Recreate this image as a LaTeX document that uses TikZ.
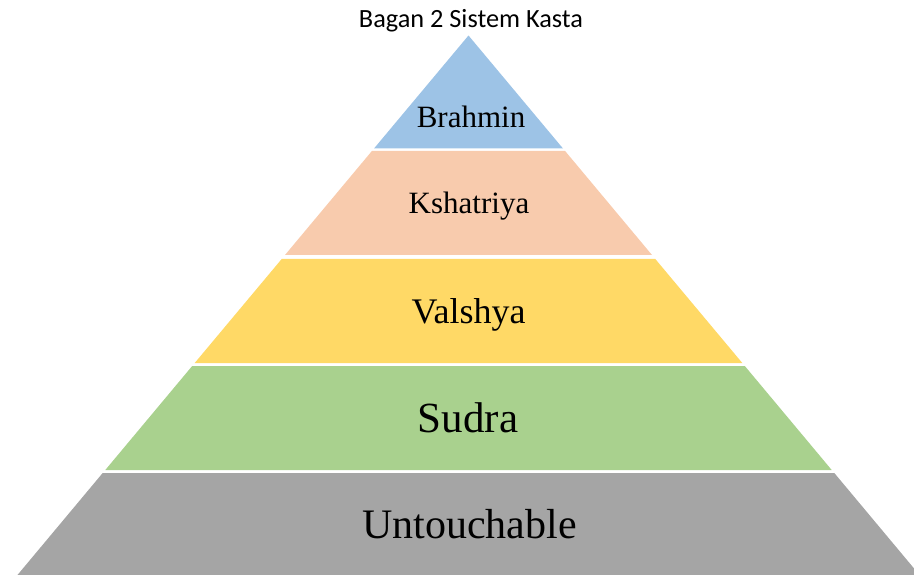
\documentclass[tikz,border=0pt]{standalone}
\usepackage{fontspec}
\setmainfont{Liberation Serif}
\newfontfamily\titlefont{Carlito}
\definecolor{cBrahmin}{HTML}{9DC3E6}
\definecolor{cKsha}{HTML}{F8CBAD}
\definecolor{cVal}{HTML}{FFD966}
\definecolor{cSud}{HTML}{A9D18E}
\definecolor{cUnt}{HTML}{A5A5A5}
\tikzset{
  band/.style={draw=none},
  lbl/.style={anchor=base, inner sep=0pt, text=black},
}
\begin{document}
\begin{tikzpicture}[x=1pt,y=-1pt]
\useasboundingbox (0,0) rectangle (914,575);
\clip (0,0) rectangle (914,575);
% bands
\fill[band, cBrahmin] (468.5,35.5) -- (563,148.5) -- (374,148.5) -- cycle;
\fill[band, cKsha] (371.9,151) -- (565.1,151) -- (652,255) -- (285,255) -- cycle;
\fill[band, cVal] (281.7,259) -- (655.3,259) -- (742.3,363) -- (194.7,363) -- cycle;
\fill[band, cSud] (192.2,366) -- (744.8,366) -- (831.7,470) -- (105.3,470) -- cycle;
\fill[band, cUnt] (102.7,473) -- (834.3,473) -- (923.7,580) -- (13.3,580) -- cycle;
% labels
\node[lbl, font=\titlefont\fontsize{26.3}{31}\selectfont] (title) at (471,28) {Bagan 2 Sistem Kasta};
\node[lbl, font=\fontsize{31}{36}\selectfont] (brahmin) at (471,127.5) {Brahmin};
\node[lbl, font=\fontsize{31}{36}\selectfont] (kshatriya) at (469,213.5) {Kshatriya};
\node[lbl, font=\fontsize{36}{42}\selectfont] (valshya) at (468.5,323) {Valshya};
\node[lbl, font=\fontsize{43}{50}\selectfont] (sudra) at (468,432) {Sudra};
\node[lbl, font=\fontsize{42}{50}\selectfont] (untouchable) at (469.5,538) {Untouchable};
\end{tikzpicture}
\end{document}
